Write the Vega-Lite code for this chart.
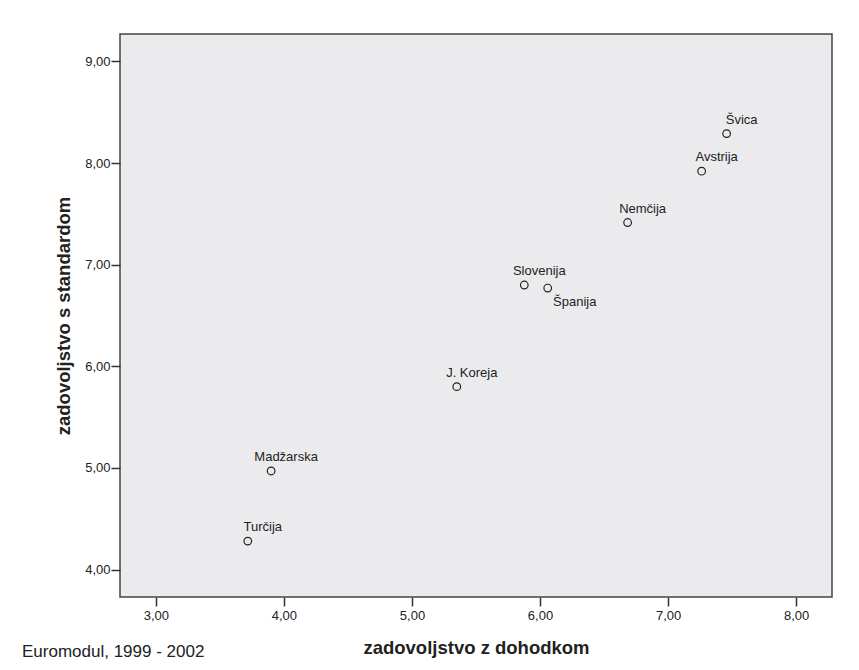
{
  "$schema": "https://vega.github.io/schema/vega-lite/v6.json",
  "width": 712,
  "height": 563,
  "autosize": {"type": "none"},
  "padding": {"left": 120, "top": 34, "right": 27, "bottom": 73},
  "background": "white",
  "title": {
    "text": "Euromodul, 1999 - 2002",
    "orient": "bottom",
    "anchor": "start",
    "frame": "group",
    "dx": -98,
    "offset": 0,
    "fontSize": 17,
    "fontWeight": "normal",
    "font": "Liberation Sans",
    "color": "#222",
    "baseline": "alphabetic"
  },
  "config": {
    "view": {"fill": "#ebebed", "stroke": "#444", "strokeWidth": 1.5},
    "font": "Liberation Sans"
  },
  "data": {
    "values": [
      {"drzava": "Švica", "dohodek": 7.457, "standard": 8.29},
      {"drzava": "Avstrija", "dohodek": 7.262, "standard": 7.92},
      {"drzava": "Nemčija", "dohodek": 6.684, "standard": 7.415},
      {"drzava": "Slovenija", "dohodek": 5.877, "standard": 6.80},
      {"drzava": "Španija", "dohodek": 6.06, "standard": 6.77},
      {"drzava": "J. Koreja", "dohodek": 5.35, "standard": 5.80},
      {"drzava": "Madžarska", "dohodek": 3.90, "standard": 4.97},
      {"drzava": "Turčija", "dohodek": 3.718, "standard": 4.28}
    ]
  },
  "encoding": {
    "x": {
      "field": "dohodek",
      "type": "quantitative",
      "scale": {"domain": [2.72, 8.28], "nice": false, "zero": false},
      "axis": {
        "values": [3, 4, 5, 6, 7, 8],
        "labelExpr": "replace(format(datum.value, '.2f'), '.', ',')",
        "grid": false,
        "domain": false,
        "tickSize": 9,
        "tickWidth": 1.5,
        "tickColor": "#333",
        "labelFontSize": 13,
        "labelColor": "#222",
        "labelPadding": 3,
        "labelFont": "Liberation Sans",
        "title": "zadovoljstvo z dohodkom",
        "titleFont": "Liberation Sans",
        "titleFontSize": 18.5,
        "titleFontWeight": "bold",
        "titleColor": "#222",
        "titleX": 356,
        "titleY": 56,
        "titleBaseline": "alphabetic",
        "titleAlign": "center"
      }
    },
    "y": {
      "field": "standard",
      "type": "quantitative",
      "scale": {"domain": [3.73, 9.27], "nice": false, "zero": false},
      "axis": {
        "values": [4, 5, 6, 7, 8, 9],
        "labelExpr": "replace(format(datum.value, '.2f'), '.', ',')",
        "grid": false,
        "domain": false,
        "tickSize": 9,
        "tickWidth": 1.5,
        "tickColor": "#333",
        "labelFontSize": 13,
        "labelColor": "#222",
        "labelPadding": 1,
        "labelFont": "Liberation Sans",
        "title": "zadovoljstvo s standardom",
        "titleFont": "Liberation Sans",
        "titleFontSize": 18.5,
        "titleFontWeight": "bold",
        "titleColor": "#222",
        "titleX": -51,
        "titleY": 281.5,
        "titleAngle": -90,
        "titleBaseline": "alphabetic",
        "titleAlign": "center"
      }
    }
  },
  "layer": [
    {
      "mark": {"type": "point", "shape": "circle", "size": 58, "filled": false, "stroke": "#222", "strokeWidth": 1.2, "opacity": 1}
    },
    {
      "transform": [{"filter": "datum.drzava !== 'Španija'"}],
      "mark": {"type": "text", "align": "center", "baseline": "alphabetic", "dx": 15, "dy": -10, "fontSize": 13, "font": "Liberation Sans", "color": "#222"},
      "encoding": {"text": {"field": "drzava"}}
    },
    {
      "transform": [{"filter": "datum.drzava === 'Španija'"}],
      "mark": {"type": "text", "align": "center", "baseline": "alphabetic", "dx": 27, "dy": 18, "fontSize": 13, "font": "Liberation Sans", "color": "#222"},
      "encoding": {"text": {"field": "drzava"}}
    }
  ]
}
